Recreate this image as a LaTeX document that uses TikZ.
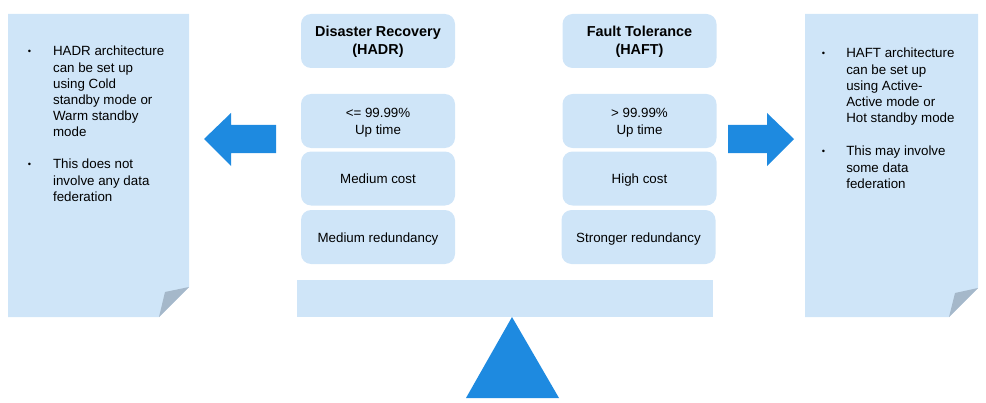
\documentclass[tikz,border=0pt]{standalone}
\usepackage{fontspec}
\setmainfont{Liberation Sans}
\definecolor{lblue}{HTML}{CFE5F8}
\definecolor{dblue}{HTML}{1E8AE0}
\definecolor{foldgray}{HTML}{A5B8CA}
\newcommand{\bul}[1]{\makebox[#1][l]{\fontsize{7}{0}\selectfont\raisebox{1.3pt}{•}}}
\newcommand{\tstr}{\rule{0pt}{11.3pt}}
\tikzset{
  card/.style={fill=lblue, rounded corners=7.5pt, minimum width=115.5pt, minimum height=40.5pt, inner sep=0pt, align=center, font=\fontsize{10}{12.2}\selectfont},
  titlecard/.style={card, font=\fontsize{10.8}{13.8}\selectfont\bfseries},
  notetext/.style={anchor=north west, inner sep=0pt, align=left, font=\fontsize{10}{12.15}\selectfont},
  notebody/.style={fill=lblue},
  fold/.style={fill=foldgray},
  bigarrow/.style={fill=dblue}
}
\begin{document}
\begin{tikzpicture}[x=0.75pt,y=-0.75pt]
\useasboundingbox (0,0) rectangle (986,403);
% left note
\fill[notebody] (8,14) -- (189,14) -- (189,287) -- (159,317) -- (8,317) -- cycle;
\fill[fold] (189,287) -- (165,292) -- (159,317) -- cycle;
\node[notetext] (lt1) at (27.5,46) {\bul{19pt}HADR architecture\\\hspace*{19pt}can be set up\\\hspace*{19pt}using Cold\\\hspace*{19pt}standby mode or\\\hspace*{19pt}Warm standby\\\hspace*{19pt}mode};
\node[notetext] (lt2) at (27.5,159) {\bul{19pt}This does not\\\hspace*{19pt}involve any data\\\hspace*{19pt}federation};
% right note
\fill[notebody] (805,14) -- (978,14) -- (978,288) -- (949,317) -- (805,317) -- cycle;
\fill[fold] (978,288) -- (955,293) -- (949,317) -- cycle;
\node[notetext] (rt1) at (821.5,48) {\bul{18.4pt}HAFT architecture\\\hspace*{18.4pt}can be set up\\\hspace*{18.4pt}using Active-\\\hspace*{18.4pt}Active mode or\\\hspace*{18.4pt}Hot standby mode};
\node[notetext] (rt2) at (821.5,146) {\bul{18.4pt}This may involve\\\hspace*{18.4pt}some data\\\hspace*{18.4pt}federation};
% arrows
\fill[bigarrow] (276,125) -- (231,125) -- (231,113) -- (204,139) -- (231,166) -- (231,153) -- (276,153) -- cycle;
\fill[bigarrow] (728,125) -- (767,125) -- (767,113) -- (794,139) -- (767,166) -- (767,153) -- (728,153) -- cycle;
% cards left
\node[titlecard] (dr) at (378,41) {\tstr Disaster Recovery\\(HADR)\strut};
\node[card] (dr1) at (378,121) {\tstr<= 99.99\%\\Up time\strut};
\node[card] (dr2) at (378,178.5) {\tstr Medium cost\strut};
\node[card] (dr3) at (378,237) {\tstr Medium redundancy\strut};
% cards right
\node[titlecard] (ft) at (639.5,41) {\tstr Fault Tolerance\\(HAFT)\strut};
\node[card] (ft1) at (639.5,121) {\tstr> 99.99\%\\Up time\strut};
\node[card] (ft2) at (639.5,178.5) {\tstr High cost\strut};
\node[card] (ft3) at (638.5,237) {\tstr Stronger redundancy\strut};
% beam and fulcrum
\fill[lblue] (297,280) rectangle (713,317);
\fill[dblue] (512,317) -- (559,398) -- (466,398) -- cycle;
\end{tikzpicture}
\end{document}
